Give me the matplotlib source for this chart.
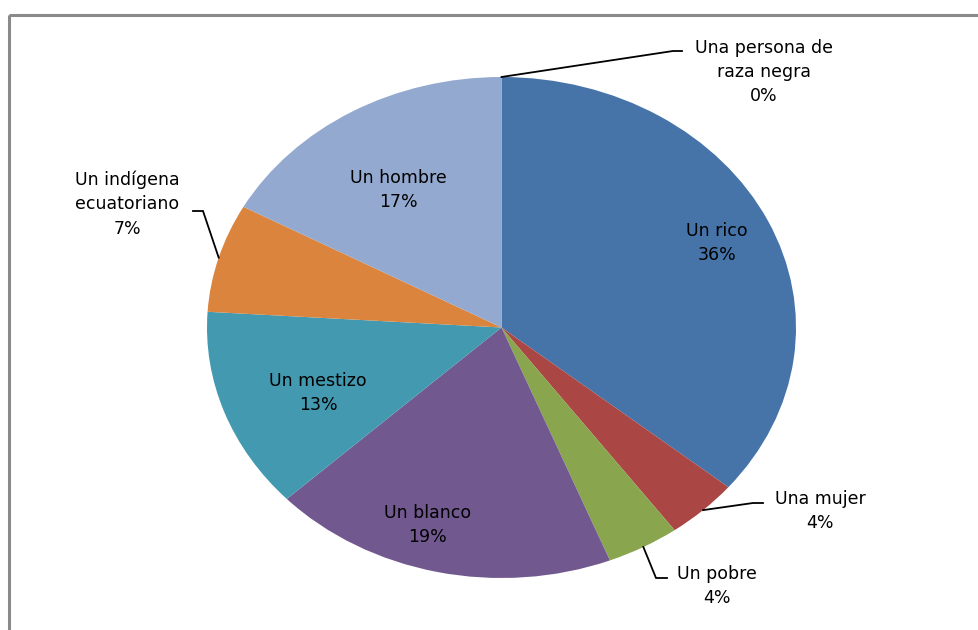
import numpy as np
import matplotlib
matplotlib.use("Agg")
import matplotlib.pyplot as plt
from matplotlib.patches import Rectangle

# data (clockwise from 12 o'clock)
categories = ["Un rico", "Una mujer", "Un pobre", "Un blanco", "Un mestizo",
              "Un indígena\necuatoriano", "Un hombre", "Una persona de\nraza negra"]
shares = [36, 4, 4, 19, 13, 7, 17, 0]
colors = ["#4674A9", "#AA4643", "#89A54E", "#71588F", "#4299B0",
          "#DB843D", "#93A9CF", "#4674A9"]

W, H = 979, 630
CX, CY, RX, RY = 501.5, 327.5, 294.5, 250.5   # pie ellipse in pixels

fig = plt.figure(figsize=(W / 100, H / 100), dpi=100)
fig.patch.set_facecolor("white")

ax = fig.add_axes([(CX - RX) / W, (H - CY - RY) / H, 2 * RX / W, 2 * RY / H])
wedges, _ = ax.pie(shares, colors=colors, startangle=90, counterclock=False,
                   radius=1, center=(0, 0))
ax.set_aspect("auto")
ax.set_xlim(-1, 1)
ax.set_ylim(-1, 1)
ax.axis("off")

# overlay in pixel coords (y down) for border, labels, leaders
ov = fig.add_axes([0, 0, 1, 1], facecolor="none")
ov.set_xlim(0, W)
ov.set_ylim(H, 0)
ov.axis("off")
ov.add_patch(Rectangle((9, 14.5), W, H, fill=False, edgecolor="#8a8a8a", lw=2.2))


def edge_px(w, r=1.0):
    t = np.deg2rad((w.theta1 + w.theta2) / 2)
    return CX + RX * r * np.cos(t), CY - RY * r * np.sin(t)


# label block centres (pixels) and leader elbows for outside labels
label_pos = [(717, 243), (820, 511), (717, 586), (428, 525), (318, 393),
             (127, 204), (398, 190), (764, 72)]
elbows = {1: [(753, 503), (763, 503)],
          2: [(656, 578), (667, 578)],
          5: [(203, 211), (193, 211)],
          7: [(673, 51), (682, 51)]}

font = dict(family="DejaVu Sans", fontsize=12.5, color="black",
            ha="center", va="center", linespacing=1.45)

for i, (w, name, val) in enumerate(zip(wedges, categories, shares)):
    x, y = label_pos[i]
    ov.text(x, y, f"{name}\n{val}%", **font)
    if i in elbows:
        sx, sy = edge_px(w)
        pts = [(sx, sy)] + elbows[i]
        ov.plot([p[0] for p in pts], [p[1] for p in pts], color="black", lw=1.3,
                solid_joinstyle="miter")

fig.savefig("out.png", dpi=100)
